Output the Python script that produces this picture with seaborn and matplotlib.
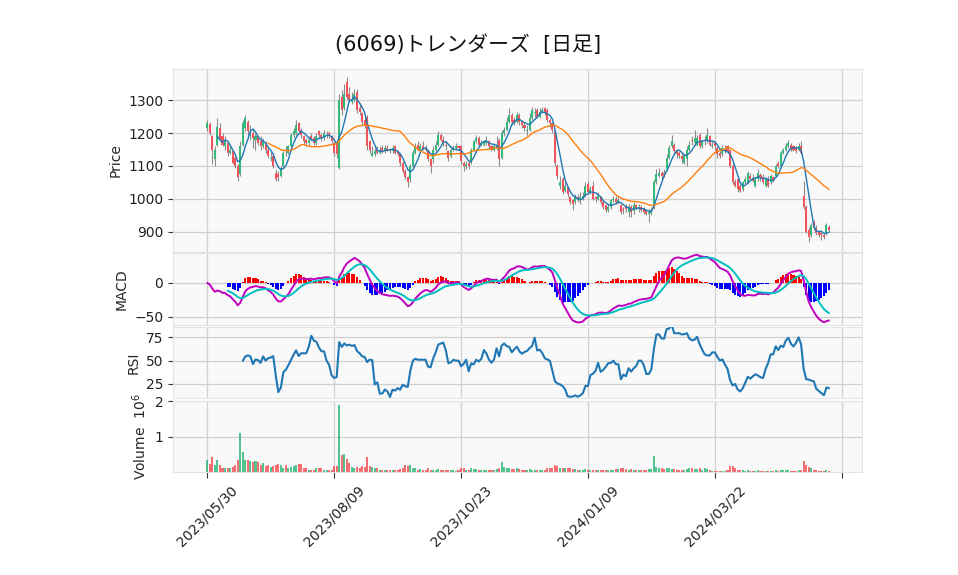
import numpy as np
import pandas as pd
import matplotlib
matplotlib.use("Agg")
import matplotlib.pyplot as plt
import seaborn as sns
from matplotlib.ticker import FixedLocator, FuncFormatter

# ---------------- data ----------------
title = "(6069)トレンダーズ  [日足]"
tick_labels = ["2023/05/30", "2023/08/09", "2023/10/23", "2024/01/09", "2024/03/22", ""]

opens = [
    1215, 1228, 1190, 1120, 1165, 1215, 1190, 1160, 1170, 1140,
    1145, 1125, 1100, 1075, 1165, 1215, 1235, 1190, 1200, 1180,
    1190, 1175, 1160, 1170, 1150, 1120, 1130, 1080, 1075, 1070,
    1100, 1150, 1140, 1160, 1195, 1200, 1230, 1210, 1190, 1180,
    1170, 1190, 1185, 1170, 1205, 1195, 1185, 1190, 1200, 1190,
    1170, 1170, 1095, 1310, 1275, 1355, 1320, 1295, 1300, 1325,
    1275, 1260, 1240, 1250, 1175, 1130, 1135, 1150, 1140, 1155,
    1145, 1155, 1150, 1145, 1160, 1145, 1135, 1110, 1085, 1065,
    1060, 1100, 1140, 1165, 1150, 1160, 1155, 1145, 1120, 1120,
    1150, 1165, 1195, 1180, 1165, 1145, 1130, 1150, 1155, 1160,
    1160, 1110, 1100, 1110, 1110, 1150, 1175, 1185, 1165, 1165,
    1170, 1175, 1160, 1150, 1155, 1180, 1125, 1200, 1210, 1235,
    1255, 1240, 1235, 1255, 1235, 1225, 1205, 1210, 1245, 1260,
    1270, 1250, 1265, 1275, 1270, 1240, 1230, 1205, 1100, 1040,
    1060, 1025, 1035, 1005, 995, 990, 1005, 995, 1000, 1010,
    1045, 1020, 1040, 1005, 1000, 1005, 990, 980, 965, 975,
    995, 1000, 988, 980, 970, 975, 960, 975, 962, 980,
    968, 975, 968, 965, 955, 958, 975, 1050, 1070, 1080,
    1080, 1090, 1125, 1160, 1165, 1145, 1140, 1130, 1110, 1120,
    1150, 1180, 1170, 1165, 1195, 1160, 1175, 1175, 1190, 1160,
    1170, 1155, 1140, 1135, 1145, 1160, 1150, 1100, 1050, 1060,
    1040, 1030, 1050, 1050, 1070, 1062, 1040, 1060, 1072, 1065,
    1040, 1060, 1050, 1065, 1070, 1110, 1100, 1140, 1150, 1160,
    1165, 1160, 1155, 1150, 1160, 1010, 975, 905, 890, 930,
    912, 900, 895, 890, 895, 915,
]
highs = [
    1240, 1235, 1195, 1160, 1245, 1230, 1200, 1190, 1175, 1165,
    1150, 1130, 1105, 1175, 1240, 1255, 1240, 1225, 1215, 1200,
    1195, 1190, 1185, 1175, 1160, 1145, 1135, 1090, 1085, 1100,
    1145, 1160, 1165, 1200, 1215, 1240, 1235, 1215, 1195, 1185,
    1190, 1200, 1190, 1200, 1210, 1200, 1210, 1205, 1205, 1195,
    1175, 1175, 1320, 1330, 1350, 1370, 1340, 1325, 1335, 1335,
    1290, 1265, 1250, 1255, 1180, 1160, 1155, 1160, 1160, 1165,
    1165, 1165, 1155, 1165, 1165, 1150, 1140, 1115, 1090, 1070,
    1105, 1150, 1170, 1175, 1170, 1175, 1165, 1150, 1125, 1160,
    1175, 1205, 1200, 1190, 1175, 1150, 1160, 1165, 1170, 1165,
    1165, 1115, 1115, 1115, 1155, 1180, 1195, 1190, 1180, 1180,
    1190, 1180, 1165, 1170, 1190, 1185, 1210, 1220, 1250, 1275,
    1260, 1250, 1265, 1260, 1240, 1235, 1225, 1260, 1280, 1275,
    1275, 1275, 1280, 1280, 1275, 1245, 1235, 1210, 1105, 1070,
    1065, 1050, 1040, 1010, 1000, 1015, 1015, 1020, 1020, 1050,
    1055, 1040, 1055, 1010, 1020, 1010, 995, 985, 985, 1000,
    1010, 1010, 1005, 985, 975, 985, 985, 980, 990, 985,
    985, 980, 975, 970, 970, 975, 1060, 1090, 1095, 1085,
    1090, 1135, 1165, 1195, 1170, 1150, 1145, 1135, 1140, 1160,
    1175, 1190, 1210, 1195, 1200, 1180, 1190, 1215, 1195, 1175,
    1175, 1160, 1145, 1165, 1165, 1165, 1150, 1105, 1060, 1065,
    1045, 1055, 1070, 1085, 1080, 1075, 1065, 1090, 1080, 1075,
    1065, 1070, 1075, 1070, 1105, 1115, 1145, 1155, 1170, 1180,
    1170, 1165, 1160, 1170, 1175, 1055, 980, 915, 925, 935,
    920, 905, 900, 895, 925, 920,
]
lows = [
    1205, 1195, 1105, 1100, 1160, 1175, 1160, 1150, 1130, 1135,
    1105, 1095, 1055, 1070, 1160, 1205, 1195, 1180, 1155, 1150,
    1165, 1150, 1155, 1140, 1125, 1115, 1095, 1055, 1055, 1065,
    1095, 1130, 1135, 1155, 1185, 1195, 1200, 1185, 1165, 1160,
    1165, 1175, 1165, 1165, 1185, 1175, 1180, 1185, 1185, 1170,
    1130, 1125, 1090, 1255, 1270, 1305, 1295, 1290, 1295, 1260,
    1255, 1225, 1215, 1150, 1140, 1130, 1130, 1135, 1135, 1140,
    1140, 1145, 1140, 1140, 1135, 1130, 1100, 1080, 1060, 1035,
    1050, 1095, 1135, 1145, 1145, 1150, 1145, 1115, 1080, 1110,
    1145, 1160, 1175, 1160, 1150, 1115, 1125, 1145, 1150, 1150,
    1105, 1085, 1090, 1090, 1105, 1145, 1170, 1160, 1160, 1160,
    1165, 1155, 1145, 1145, 1150, 1100, 1120, 1190, 1205, 1230,
    1225, 1225, 1230, 1225, 1215, 1205, 1190, 1205, 1240, 1250,
    1245, 1245, 1260, 1255, 1235, 1220, 1200, 1100, 1060, 1030,
    1015, 1020, 1005, 985, 965, 985, 990, 985, 995, 1005,
    1015, 1015, 995, 990, 995, 985, 970, 960, 960, 970,
    990, 985, 985, 955, 955, 960, 945, 945, 955, 965,
    960, 960, 955, 950, 930, 950, 970, 1045, 1065, 1060,
    1065, 1085, 1120, 1155, 1135, 1125, 1125, 1110, 1105, 1100,
    1145, 1165, 1165, 1160, 1155, 1155, 1165, 1170, 1160, 1155,
    1150, 1125, 1125, 1130, 1140, 1140, 1095, 1045, 1035, 1020,
    1020, 1025, 1045, 1045, 1055, 1050, 1035, 1055, 1055, 1045,
    1035, 1035, 1045, 1050, 1065, 1095, 1095, 1135, 1145, 1155,
    1145, 1145, 1140, 1145, 1135, 970, 895, 868, 885, 905,
    890, 885, 875, 878, 890, 900,
]
closes = [
    1232, 1200, 1150, 1150, 1217, 1180, 1165, 1180, 1140, 1150,
    1110, 1100, 1065, 1160, 1230, 1245, 1205, 1195, 1185, 1190,
    1170, 1160, 1175, 1150, 1130, 1125, 1100, 1060, 1065, 1095,
    1140, 1145, 1160, 1195, 1205, 1225, 1205, 1195, 1175, 1170,
    1180, 1185, 1170, 1190, 1195, 1185, 1200, 1195, 1190, 1175,
    1140, 1135, 1300, 1270, 1320, 1310, 1300, 1305, 1320, 1270,
    1265, 1235, 1225, 1160, 1150, 1140, 1145, 1140, 1150, 1145,
    1155, 1150, 1145, 1155, 1140, 1135, 1110, 1085, 1065, 1050,
    1100, 1140, 1160, 1150, 1160, 1155, 1150, 1120, 1100, 1150,
    1165, 1195, 1180, 1170, 1160, 1125, 1150, 1155, 1160, 1155,
    1115, 1100, 1105, 1100, 1150, 1175, 1185, 1165, 1170, 1175,
    1180, 1160, 1150, 1160, 1165, 1120, 1200, 1210, 1235, 1255,
    1235, 1230, 1255, 1235, 1225, 1215, 1210, 1245, 1270, 1265,
    1250, 1265, 1270, 1265, 1240, 1230, 1210, 1110, 1070, 1050,
    1020, 1040, 1015, 990, 985, 1005, 1000, 1005, 1010, 1040,
    1020, 1030, 1000, 1000, 1010, 990, 975, 965, 975, 995,
    1000, 990, 995, 960, 965, 970, 975, 960, 980, 970,
    975, 965, 960, 955, 960, 965, 1050, 1075, 1080, 1070,
    1072, 1125, 1155, 1175, 1145, 1135, 1130, 1120, 1130, 1150,
    1165, 1175, 1185, 1185, 1160, 1175, 1180, 1195, 1165, 1165,
    1160, 1135, 1130, 1155, 1150, 1145, 1100, 1050, 1040, 1030,
    1025, 1050, 1060, 1080, 1060, 1055, 1060, 1080, 1062, 1050,
    1060, 1040, 1068, 1058, 1100, 1100, 1140, 1150, 1160, 1170,
    1150, 1150, 1145, 1160, 1140, 975, 900, 885, 920, 910,
    895, 890, 890, 885, 920, 905,
]
volume_k = [  # thousands of shares
    330, 220, 410, 190, 350, 190, 100, 100, 100, 100,
    140, 190, 330, 1100, 570, 330, 330, 310, 290, 310,
    290, 190, 240, 160, 190, 140, 160, 190, 220, 190,
    100, 190, 120, 140, 160, 190, 220, 220, 120, 100,
    70, 50, 70, 100, 100, 100, 70, 70, 70, 70,
    160, 160, 1880, 480, 500, 380, 240, 140, 120, 140,
    100, 160, 140, 430, 160, 140, 100, 100, 70, 70,
    50, 70, 50, 70, 70, 50, 90, 120, 190, 160,
    190, 120, 100, 70, 90, 70, 50, 100, 70, 50,
    50, 80, 70, 60, 50, 60, 50, 50, 40, 50,
    100, 120, 70, 70, 100, 90, 80, 60, 50, 50,
    60, 50, 50, 50, 90, 120, 270, 140, 120, 100,
    80, 80, 100, 80, 60, 60, 70, 80, 70, 50,
    50, 50, 70, 70, 100, 100, 120, 190, 170, 120,
    120, 100, 100, 100, 90, 80, 60, 50, 60, 80,
    70, 60, 70, 50, 60, 60, 60, 70, 60, 70,
    60, 80, 90, 100, 100, 90, 70, 80, 70, 70,
    60, 70, 60, 70, 80, 90, 460, 150, 120, 100,
    90, 120, 100, 90, 80, 60, 60, 70, 70, 90,
    120, 110, 90, 80, 120, 70, 100, 90, 70, 40,
    30, 30, 30, 30, 40, 60, 180, 180, 120, 70,
    50, 50, 40, 50, 40, 40, 40, 50, 40, 40,
    30, 40, 40, 40, 50, 40, 60, 50, 50, 50,
    40, 40, 40, 60, 60, 300, 200, 150, 120, 60,
    50, 40, 40, 40, 50, 40,
]

# ---------------- indicators ----------------
df = pd.DataFrame({"open": opens, "high": highs, "low": lows,
                   "close": closes, "volume": np.array(volume_k) * 1000})
df["idx"] = np.arange(len(df))
c = df["close"]
df["ma5"] = c.rolling(5).mean()
df["ma25"] = c.rolling(25).mean()
ema12 = c.ewm(span=12, adjust=False).mean()
ema26 = c.ewm(span=26, adjust=False).mean()
df["macd"] = ema12 - ema26
sig = df["macd"].ewm(span=9, adjust=False).mean()
sig.iloc[:8] = np.nan
df["signal"] = sig
df["hist"] = df["macd"] - df["signal"]
delta = c.diff()
gain = delta.clip(lower=0).rolling(14).mean()
loss = (-delta.clip(upper=0)).rolling(14).mean()
df["rsi"] = 100 - 100 / (1 + gain / loss)

up = df["close"] >= df["open"]
UP, DOWN = "#35b97b", "#f2545b"
candle_colors = np.where(up, UP, DOWN)

# ---------------- figure ----------------
sns.set_style("white")
plt.rcParams["font.family"] = ["DejaVu Sans", "Noto Sans CJK JP"]

fig = plt.figure(figsize=(9.58, 5.75), dpi=100)
L, W = 0.1806, 0.7192
ax_p = fig.add_axes([L, 0.5617, W, 0.3183])
ax_m = fig.add_axes([L, 0.4348, W, 0.1252], sharex=ax_p)
ax_r = fig.add_axes([L, 0.3078, W, 0.1235], sharex=ax_p)
ax_v = fig.add_axes([L, 0.1791, W, 0.1235], sharex=ax_p)
axes = [ax_p, ax_m, ax_r, ax_v]

# price panel
ax_p.vlines(df["idx"], df["low"], df["high"], color="#8c8c8c", linewidth=0.8, zorder=2)
ax_p.bar(df["idx"], df["close"] - df["open"], bottom=df["open"], width=0.8,
         color=candle_colors, linewidth=0, zorder=3)
sns.lineplot(data=df, x="idx", y="ma5", ax=ax_p, color="#1f77b4", linewidth=1.0,
             estimator=None, legend=False, zorder=4)
sns.lineplot(data=df, x="idx", y="ma25", ax=ax_p, color="#ff7f0e", linewidth=1.0,
             estimator=None, legend=False, zorder=4)
ax_p.set_ylim(838, 1395)
ax_p.yaxis.set_major_locator(FixedLocator([900, 1000, 1100, 1200, 1300]))
ax_p.set_ylabel("Price")

# MACD panel
hist_colors = np.where(df["hist"].fillna(0) >= 0, "red", "blue")
ax_m.bar(df["idx"], df["hist"].fillna(0), width=0.8, color=hist_colors, linewidth=0, zorder=2)
sns.lineplot(data=df, x="idx", y="macd", ax=ax_m, color="#bf00bf", linewidth=1.4,
             estimator=None, legend=False, zorder=3)
sns.lineplot(data=df, x="idx", y="signal", ax=ax_m, color="#00bfbf", linewidth=1.4,
             estimator=None, legend=False, zorder=3)
ax_m.set_ylim(-62, 44)
ax_m.yaxis.set_major_locator(FixedLocator([-50, 0]))
ax_m.set_ylabel("MACD")

# RSI panel
sns.lineplot(data=df, x="idx", y="rsi", ax=ax_r, color="#1f77b4", linewidth=1.5,
             estimator=None, legend=False, zorder=3)
ax_r.set_ylim(10, 86)
ax_r.yaxis.set_major_locator(FixedLocator([25, 50, 75]))
ax_r.set_ylabel("RSI")

# Volume panel
ax_v.bar(df["idx"], df["volume"], width=0.8, color=candle_colors, alpha=0.85,
         linewidth=0, zorder=2)
ax_v.set_ylim(0, 2.0e6)
ax_v.yaxis.set_major_locator(FixedLocator([1e6, 2e6]))
ax_v.yaxis.set_major_formatter(FuncFormatter(lambda v, p: f"{v / 1e6:g}"))
ax_v.set_ylabel("Volume  $10^{6}$")

# shared x axis
ax_v.set_xlim(-13.5, 258)
ax_v.xaxis.set_major_locator(FixedLocator([0, 50, 100, 150, 200, 250]))
ax_v.set_xticklabels(tick_labels, rotation=45, ha="center", fontsize=10)

for ax in axes:
    ax.set_facecolor("#f9f9f9")
    ax.grid(True, color="#d0d0d0", linewidth=0.9)
    ax.set_axisbelow(True)
    for s in ax.spines.values():
        s.set_color("#e4e4e4")
        s.set_linewidth(0.8)
    ax.tick_params(axis="y", left=True, length=3.5, width=0.8, color="#333333",
                   labelsize=10, labelcolor="#222222")
    ax.yaxis.label.set_size(10)
    ax.set_xlabel("")
    if ax is not ax_v:
        ax.tick_params(axis="x", bottom=False, labelbottom=False)

ax_v.tick_params(axis="x", bottom=True, length=4.5, width=0.8, color="#333333",
                 labelcolor="#222222")

fig.text(0.4885, 0.922, title, fontsize=15, ha="center", va="center", color="#111111")

fig.savefig("out.png", dpi=100)
